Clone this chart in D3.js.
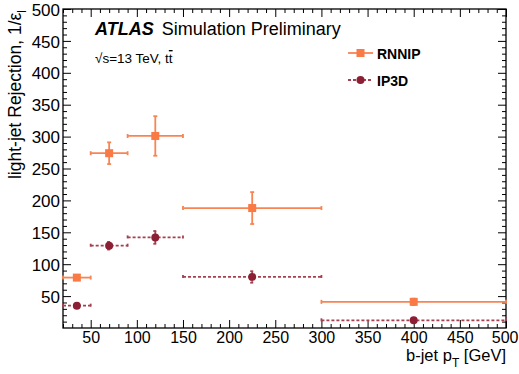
<!DOCTYPE html>
<html>
<head>
<meta charset="utf-8">
<script src="https://cdn.jsdelivr.net/npm/d3@7"></script>
<style>
  body { margin: 0; background: #fff; }
  svg text { font-family: "Liberation Sans", Arial, Helvetica, sans-serif; fill: #000; }
</style>
</head>
<body>
<svg id="chart" width="519" height="374"></svg>
<script>
// bins in b-jet pT [GeV]
const binLo = [20, 50, 90, 150, 300];
const binHi = [50, 90, 150, 300, 500];
const binCenter = [35, 70, 120, 225, 400];

// light-jet rejection per tagger
const rnnip = [79, 274, 301, 188, 41];
const rnnipErr = [4, 17, 31, 25, 5];
const ip3d = [35, 129, 142, 80, 12];
const ip3dErr = [3, 6, 10, 9, 2];

const xMajor = [50, 100, 150, 200, 250, 300, 350, 400, 450, 500];
const yMajor = [50, 100, 150, 200, 250, 300, 350, 400, 450, 500];

const m = { left: 63, right: 13, top: 9, bottom: 46 };
const W = 519, H = 374;
const svg = d3.select('#chart');

const x = d3.scaleLinear().domain([20, 500]).range([m.left, W - m.right]);
const y = d3.scaleLinear().domain([0, 500]).range([H - m.bottom, m.top]);

const xMinor = d3.range(20, 501, 10).filter(v => v % 50 !== 0);
const yMinor = d3.range(10, 501, 10).filter(v => v % 50 !== 0);

// Ticks (inward, mirrored ROOT style)
function tickAxis(axisFn, scale, vals, size, tr, labels) {
    const g = svg.append('g')
        .attr('transform', tr)
        .call(axisFn(scale).tickValues(vals).tickSize(size).tickSizeOuter(0)
            .tickFormat(labels ? d3.format('d') : ''));
    g.select('.domain').remove();
    g.selectAll('line').attr('stroke', '#000').attr('stroke-width', 1);
    return g;
}

const bottomY = H - m.bottom, rightX = W - m.right;
const xl = tickAxis(d3.axisBottom, x, xMajor, -8, `translate(0,${bottomY})`, true);
tickAxis(d3.axisBottom, x, xMinor, -4, `translate(0,${bottomY})`, false);
tickAxis(d3.axisTop, x, xMajor, -8, `translate(0,${m.top})`, false);
tickAxis(d3.axisTop, x, xMinor, -4, `translate(0,${m.top})`, false);
const yl = tickAxis(d3.axisLeft, y, yMajor, -8, `translate(${m.left},0)`, true);
tickAxis(d3.axisLeft, y, yMinor, -4, `translate(${m.left},0)`, false);
tickAxis(d3.axisRight, y, yMajor, -8, `translate(${rightX},0)`, false);
tickAxis(d3.axisRight, y, yMinor, -4, `translate(${rightX},0)`, false);

xl.selectAll('text').attr('font-size', 16).attr('y', 15).attr('dy', 0);
// keep the last label inside the picture
xl.selectAll('text').filter(d => d === 500).attr('text-anchor', 'end').attr('x', 12);
yl.selectAll('text').attr('font-size', 17).attr('x', -3).attr('dy', '0.36em');

// Frame
svg.append('rect')
    .attr('x', m.left).attr('y', m.top)
    .attr('width', rightX - m.left).attr('height', bottomY - m.top)
    .attr('fill', 'none').attr('stroke', '#000').attr('stroke-width', 1.3);

// Axis titles
const xt = svg.append('text')
    .attr('x', rightX).attr('y', 361)
    .attr('text-anchor', 'end').attr('font-size', 16.5);
xt.append('tspan').text('b-jet p');
xt.append('tspan').attr('font-size', 12).attr('dy', 6).text('T');
xt.append('tspan').attr('dy', -6).text(' [GeV]');

const yt = svg.append('text')
    .attr('transform', 'translate(21,10) rotate(-90)')
    .attr('text-anchor', 'end').attr('font-size', 17.5);
yt.append('tspan').text('light-jet Rejection, 1/ε');
yt.append('tspan').attr('font-size', 12).attr('dy', 5).text('l');

// Series
const series = [
    { name: 'RNNIP', vals: rnnip, errs: rnnipErr, color: '#f98453', marker: '#f97a44', dash: null, shape: 'square' },
    { name: 'IP3D', vals: ip3d, errs: ip3dErr, color: '#a4404f', marker: '#8c1f33', dash: '3,2', shape: 'circle' }
];

function drawMarker(g, s, cx, cy) {
    if (s.shape === 'square') {
        g.append('rect').attr('x', cx - 4).attr('y', cy - 4)
            .attr('width', 8).attr('height', 8).attr('fill', s.marker);
    } else {
        g.append('circle').attr('cx', cx).attr('cy', cy).attr('r', 4).attr('fill', s.marker);
    }
}

series.forEach(s => {
    const g = svg.append('g').attr('stroke', s.color).attr('stroke-width', 1.8)
        .attr('stroke-dasharray', s.dash);
    s.vals.forEach((v, i) => {
        const cy = y(v), cx = x(binCenter[i]);
        const x0 = x(binLo[i]), x1 = x(binHi[i]);
        g.append('line').attr('x1', x0).attr('x2', x1).attr('y1', cy).attr('y2', cy);
        g.append('line').attr('x1', cx).attr('x2', cx)
            .attr('y1', y(v + s.errs[i])).attr('y2', y(v - s.errs[i]));
        // end caps
        [x0, x1].forEach(px => g.append('line').attr('stroke-dasharray', null)
            .attr('x1', px).attr('x2', px).attr('y1', cy - 2).attr('y2', cy + 2));
        [v + s.errs[i], v - s.errs[i]].forEach(ev => g.append('line').attr('stroke-dasharray', null)
            .attr('x1', cx - 2).attr('x2', cx + 2).attr('y1', y(ev)).attr('y2', y(ev)));
        drawMarker(svg, s, cx, cy);
    });
});

// Labels
const atl = svg.append('text').attr('x', 95).attr('y', 35).attr('font-size', 18);
atl.append('tspan').attr('font-weight', 'bold').attr('font-style', 'italic').text('ATLAS');
atl.append('tspan').attr('dx', 8).text('Simulation Preliminary');

const sq = svg.append('text').attr('x', 95).attr('y', 63).attr('font-size', 13.5);
sq.append('tspan').text('√s=13 TeV, t');
sq.append('tspan').style('text-decoration', 'overline').text('t');

// Legend
series.forEach((s, i) => {
    const ly = 53 + i * 27;
    svg.append('line').attr('x1', 348).attr('x2', 373).attr('y1', ly).attr('y2', ly)
        .attr('stroke', s.color).attr('stroke-width', 1.8).attr('stroke-dasharray', s.dash);
    drawMarker(svg, s, 360.5, ly);
    svg.append('text').attr('x', 377).attr('y', ly + 6)
        .attr('font-size', 14).attr('font-weight', 'bold').text(s.name);
});
</script>
</body>
</html>
